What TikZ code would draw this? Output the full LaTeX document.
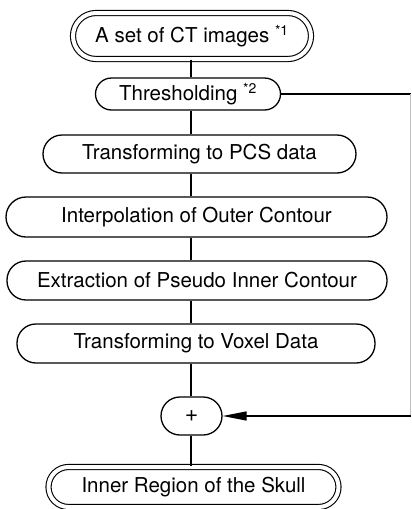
\documentclass[tikz,border=0pt]{standalone}
\usepackage{fontspec}
\setmainfont{TeX Gyre Heros}
\usetikzlibrary{arrows.meta}
\begin{document}
\begin{tikzpicture}[x=1pt,y=-1pt,
  every node/.style={font=\fontsize{20.5}{24}\selectfont},
  stepbox/.style={draw, line width=1.3pt, rectangle, inner sep=0pt,
    minimum width=#1, minimum height=38pt, rounded corners=19pt},
  termbox/.style={draw, line width=1.1pt, double, double distance=4pt, rectangle, inner sep=0pt,
    minimum width=#1, minimum height=46pt, rounded corners=23pt},
  link/.style={line width=1.3pt},
  feed/.style={line width=0.6pt, black!25}]
\useasboundingbox (0,0) rectangle (412,509);
\coordinate (sp) at (191,0);
\coordinate (rx) at (410.5,0);

\node[termbox=238pt] (ct) at (192,36) {A set of CT images \textsuperscript{\fontsize{14}{14}\selectfont *1}};
\node[stepbox=185pt, minimum height=32pt, rounded corners=16pt] (th) at (188,94) {Thresholding \textsuperscript{\fontsize{14}{14}\selectfont *2}};
\node[stepbox=313pt] (pcs) at (199.5,154) {Transforming to PCS data};
\node[stepbox=381pt, minimum height=40pt, rounded corners=20pt] (ip) at (196.5,217) {Interpolation of Outer Contour};
\node[stepbox=380pt, minimum height=39pt] (ex) at (197,280.5) {Extraction of Pseudo Inner Contour};
\node[stepbox=358pt, minimum height=39pt] (vx) at (196,343.5) {Transforming to Voxel Data};
\node[stepbox=61pt, font=\fontsize{23}{24}\selectfont] (plus) at (191.5,416) {+};
\node[termbox=290pt, minimum height=40pt, rounded corners=20pt] (ir) at (193.5,487) {Inner Region of the Skull};

\draw[link] (ct.south -| sp) -- (th.north -| sp);
\draw[link] (th.south -| sp) -- (pcs.north -| sp);
\draw[link] (pcs.south -| sp) -- (ip.north -| sp);
\draw[link] (ip.south -| sp) -- (ex.north -| sp);
\draw[link] (ex.south -| sp) -- (vx.north -| sp);
\draw[link] (vx.south -| sp) -- (plus.north -| sp);
\draw[link] (plus.south -| sp) -- (ir.north -| sp);

\coordinate (fa) at (th.east -| rx);
\coordinate (fb) at (plus.east -| rx);
\draw[link] (th.east) -- (fa);
\draw[feed] (fa) -- (fb);
\draw[link, -{Triangle[length=24pt,width=9pt]}] (fb) -- (plus.east);
\end{tikzpicture}
\end{document}
